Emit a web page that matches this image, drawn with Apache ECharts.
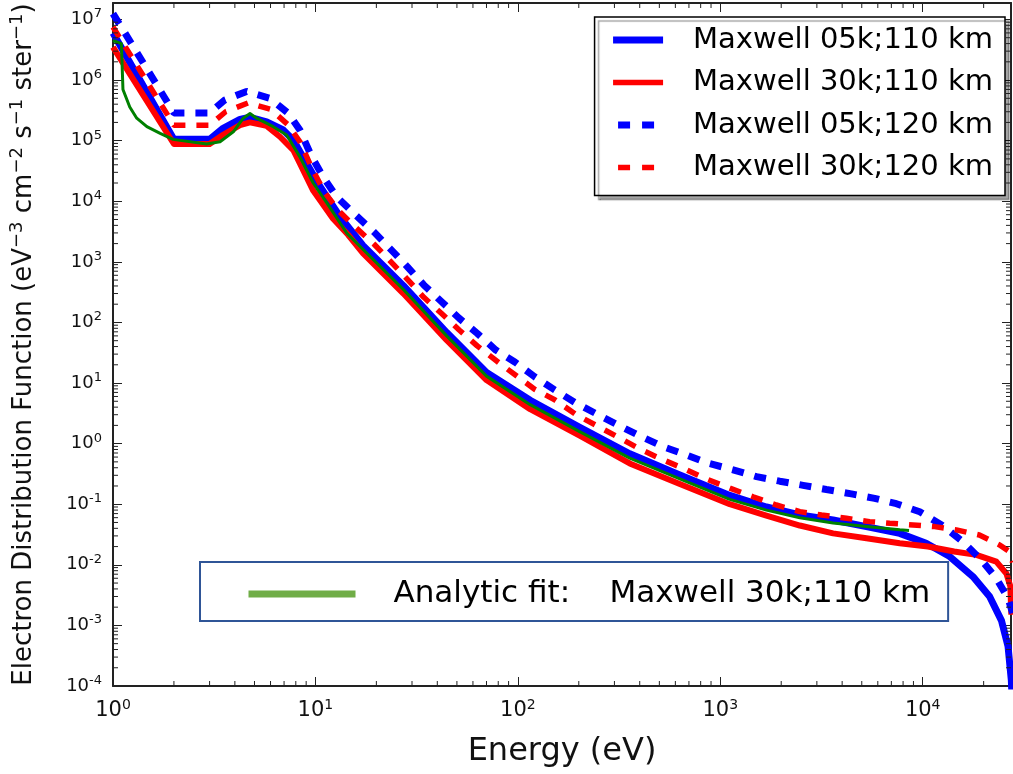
<!DOCTYPE html>
<html>
<head>
<meta charset="utf-8">
<script src="https://cdn.jsdelivr.net/npm/echarts@6/dist/echarts.min.js"></script>
<style>html,body{margin:0;padding:0;background:#fff}#c{width:1013px;height:774px}</style>
</head>
<body>
<div id="c"></div>
<script>
// ---- tick labels (powers of ten) ----
const xTickExps = [0, 1, 2, 3, 4];
const yTickExps = [-4, -3, -2, -1, 0, 1, 2, 3, 4, 5, 6, 7];
const minorMultipliers = [2, 3, 4, 5, 6, 7, 8, 9];
const xMin = 1, xMax = 27300, yMin = 1e-4, yMax = 1.87e7;

// ---- series names ----
const nameB110 = 'Maxwell 05k;110 km';
const nameR110 = 'Maxwell 30k;110 km';
const nameB120 = 'Maxwell 05k;120 km';
const nameR120 = 'Maxwell 30k;120 km';
const nameFit = 'Analytic fit:    Maxwell 30k;110 km';

// ---- Maxwell 05k;110 km (blue solid) ----
const E_b110 = [1, 2, 3, 3.5, 4.24, 4.75, 5.74, 6.93, 7.77, 9.05, 10.55, 13.2, 17.2, 27.2, 44.5, 70, 115, 202, 357, 631, 1114, 1690, 2472, 3607, 5272, 7700, 10400, 13600, 17700, 21400, 24500, 26400, 27400, 27800];
const F_b110 = [6e6, 1.05e5, 1.05e5, 1.6e5, 2.25e5, 2.43e5, 2.05e5, 1.5e5, 1.03e5, 4.2e4, 1.74e4, 5.6e3, 1.85e3, 405, 68, 15, 5.2, 1.85, 0.68, 0.305, 0.14, 0.09, 0.0665, 0.055, 0.0426, 0.033, 0.0227, 0.0137, 0.0064, 0.003, 0.0012, 4.5e-4, 1.25e-4, 4e-5];

// ---- Maxwell 30k;110 km (red solid) ----
const E_r110 = [1, 2, 3, 3.5, 4.24, 4.75, 5.74, 6.68, 7.77, 8.38, 9.75, 12.2, 14.5, 17.2, 27.2, 44.5, 70, 115, 202, 357, 631, 1114, 1690, 2472, 3607, 5272, 7700, 10600, 14300, 18400, 23100, 25900, 27100, 27400];
const F_r110 = [3.5e6, 8.8e4, 8.8e4, 1.25e5, 1.8e5, 2e5, 1.75e5, 1.16e5, 7e4, 4.2e4, 1.5e4, 5.2e3, 2.8e3, 1.38e3, 300, 51, 11.2, 3.7, 1.35, 0.47, 0.215, 0.1, 0.065, 0.0445, 0.033, 0.0275, 0.0227, 0.02, 0.0166, 0.0146, 0.0113, 0.0072, 0.0044, 0.0015];

// ---- Maxwell 05k;120 km (blue dashed) ----
const E_b120 = [1, 2, 3, 3.57, 4.57, 5.96, 7.34, 8.38, 9.58, 10.9, 12.7, 15.8, 19.5, 23.3, 28.4, 34.3, 42, 51.3, 63, 77.8, 97, 121, 152, 195, 250, 319, 408, 522, 681, 871, 1157, 1510, 1968, 2566, 3344, 4443, 5790, 7413, 9665, 12400, 15800, 19500, 23100, 26400, 27800];
const F_b120 = [1.25e7, 2.87e5, 2.87e5, 4.7e5, 6.5e5, 5.0e5, 2.83e5, 1.5e5, 5.45e4, 2.55e4, 1.19e4, 5.9e3, 3.1e3, 1.67e3, 834, 416, 220, 117, 66, 35, 22, 12.7, 7.7, 4.6, 2.98, 1.96, 1.3, 0.89, 0.65, 0.475, 0.37, 0.285, 0.24, 0.205, 0.175, 0.148, 0.125, 0.102, 0.075, 0.0455, 0.024, 0.012, 0.006, 0.0028, 0.0016];

// ---- Maxwell 30k;120 km (red dashed) ----
const E_r120 = [1, 2, 3, 3.6, 4.66, 6, 7.3, 8.4, 9.6, 11.1, 13, 15.8, 19.5, 23.3, 28.4, 34.3, 42, 51.3, 63, 81.5, 121, 152, 195, 250, 319, 408, 522, 681, 838, 1114, 1452, 1892, 2472, 3162, 4198, 5470, 6871, 8954, 11450, 14660, 19050, 23990, 26500, 27800];
const F_r120 = [7.5e6, 1.8e5, 1.8e5, 3e5, 4.2e5, 3.3e5, 1.85e5, 9.5e4, 3.5e4, 1.4e4, 7e3, 3.7e3, 1.95e3, 1.05e3, 520, 260, 140, 75, 41, 21, 7.9, 5.3, 2.98, 1.91, 1.23, 0.79, 0.54, 0.37, 0.268, 0.184, 0.133, 0.097, 0.0755, 0.0665, 0.0587, 0.0516, 0.0485, 0.0455, 0.0427, 0.0377, 0.0311, 0.0213, 0.017, 0.011];

// ---- Analytic fit (green) ----
const E_fit = [1, 1.1, 1.12, 1.21, 1.31, 1.47, 1.71, 1.98, 2.9, 3.38, 3.93, 4.4, 4.75, 5.12, 6.19, 7.21, 8.38, 9.75, 11.4, 14.3, 17.2, 27.2, 44.5, 70, 115, 202, 357, 631, 1114, 1690, 2472, 3607, 5272, 7700, 8560];
const F_fit = [4.5e6, 4e6, 7e5, 3.6e5, 2.35e5, 1.7e5, 1.32e5, 1.05e5, 8.8e4, 9.6e4, 1.4e5, 2.35e5, 2.8e5, 2.35e5, 1.7e5, 1.24e5, 5.4e4, 2e4, 9.3e3, 2.96e3, 1.6e3, 350, 60, 13, 4.4, 1.58, 0.575, 0.262, 0.12, 0.08, 0.06, 0.049, 0.043, 0.038, 0.037];

const FONT = 'DejaVu Sans';
const zip = (a, b) => a.map((v, i) => [v, b[i]]);

function powLabel(exps) {
  return function (v) {
    const l = Math.log10(v);
    const e = Math.round(l);
    if (Math.abs(l - e) > 1e-6 || exps.indexOf(e) < 0) return '';
    return '10{sup|' + (e < 0 ? '-' + (-e) : e) + '}';
  };
}

// minor tick positions (decorative tick marks on all four spines)
const xMinor = [], yMinor = [];
xTickExps.forEach(k => minorMultipliers.forEach(m => { const v = m * Math.pow(10, k); if (v < xMax) xMinor.push([v, yMin]); }));
yTickExps.forEach(k => minorMultipliers.forEach(m => { const v = m * Math.pow(10, k); if (v < yMax) yMinor.push([xMin, v]); }));

const tickStyle = { stroke: '#222', lineWidth: 1 };
const MINOR = 5;

const commonLog = { type: 'log', logBase: 10, interval: 1, splitLine: { show: false } };
const hideSym = { opacity: 0 };

const chart = echarts.init(document.getElementById('c'), null, { renderer: 'canvas' });
chart.setOption({
  animation: false,
  backgroundColor: '#fff',
  grid: { left: 113, right: 2, top: 3, bottom: 88, containLabel: false },
  xAxis: [
    Object.assign({}, commonLog, {
      min: xMin, max: xMax, position: 'bottom',
      axisLine: { show: true, lineStyle: { color: '#222', width: 2 } },
      axisTick: { show: true, inside: true, length: 9, lineStyle: { color: '#222', width: 1 } },
      axisLabel: {
        show: true, margin: 12, showMaxLabel: false, formatter: powLabel(xTickExps),
        fontFamily: FONT, fontSize: 21, color: '#111', lineHeight: 26,
        rich: { sup: { fontFamily: FONT, fontSize: 14, color: '#111', verticalAlign: 'top', lineHeight: 16 } }
      },
      name: 'Energy (eV)', nameLocation: 'middle', nameGap: 50,
      nameTextStyle: { fontFamily: FONT, fontSize: 32, color: '#111' }
    }),
    Object.assign({}, commonLog, {
      min: xMin, max: xMax, position: 'top',
      axisLine: { show: true, lineStyle: { color: '#222', width: 2 } },
      axisTick: { show: true, inside: true, length: 9, lineStyle: { color: '#222', width: 1 } },
      axisLabel: { show: false }
    })
  ],
  yAxis: [
    Object.assign({}, commonLog, {
      min: yMin, max: yMax, position: 'left',
      axisLine: { show: true, lineStyle: { color: '#222', width: 2 } },
      axisTick: { show: true, inside: true, length: 9, lineStyle: { color: '#222', width: 1 } },
      axisLabel: {
        show: true, margin: 11, showMaxLabel: false, formatter: powLabel(yTickExps),
        fontFamily: FONT, fontSize: 18, color: '#111', lineHeight: 24,
        rich: { sup: { fontFamily: FONT, fontSize: 13, color: '#111', verticalAlign: 'top', lineHeight: 15 } }
      },
      name: 'Electron Distribution Function (eV{sup|−3} cm{sup|−2} s{sup|−1} ster{sup|−1})',
      nameLocation: 'middle', nameGap: 72, nameRotate: 90,
      nameTextStyle: {
        fontFamily: FONT, fontSize: 26, color: '#111', lineHeight: 33,
        rich: { sup: { fontFamily: FONT, fontSize: 18, color: '#111', verticalAlign: 'top', lineHeight: 21 } }
      }
    }),
    Object.assign({}, commonLog, {
      min: yMin, max: yMax, position: 'right',
      axisLine: { show: true, lineStyle: { color: '#222', width: 2 } },
      axisTick: { show: true, inside: true, length: 9, lineStyle: { color: '#222', width: 1 } },
      axisLabel: { show: false }
    })
  ],
  legend: [
    {
      orient: 'vertical', right: 8, top: 17,
      padding: [8, 12, 13, 15],
      itemWidth: 50, itemHeight: 14, itemGap: 12.5,
      backgroundColor: '#fff', borderColor: '#000', borderWidth: 1.5, borderRadius: 0,
      shadowColor: 'rgba(0,0,0,0.35)', shadowOffsetX: 4, shadowOffsetY: 4, shadowBlur: 1,
      selectedMode: false,
      formatter: n => '{t|' + n + '}',
      textStyle: {
        fontFamily: FONT, fontSize: 29, color: '#000', lineHeight: 30,
        rich: { t: { fontFamily: FONT, fontSize: 29, color: '#000', lineHeight: 30, padding: [0, 0, 0, 25] } }
      },
      data: [
        { name: nameB110, itemStyle: hideSym, lineStyle: { color: '#0000ff', width: 7, type: 'solid' } },
        { name: nameR110, itemStyle: hideSym, lineStyle: { color: '#ff0000', width: 5.5, type: 'solid' } },
        { name: nameB120, itemStyle: hideSym, lineStyle: { color: '#0000ff', width: 7, type: [12, 12], dashOffset: 19 } },
        { name: nameR120, itemStyle: hideSym, lineStyle: { color: '#ff0000', width: 5.5, type: [12, 12], dashOffset: 19 } }
      ]
    },
    {
      orient: 'horizontal', left: 200, top: 562,
      padding: [14, 18, 9, 45],
      itemWidth: 107, itemHeight: 7,
      backgroundColor: '#fff', borderColor: '#2F5597', borderWidth: 2, borderRadius: 0,
      selectedMode: false,
      formatter: n => '{t|' + n + '}',
      textStyle: {
        fontFamily: FONT, fontSize: 31, color: '#000', lineHeight: 36,
        rich: { t: { fontFamily: FONT, fontSize: 31, color: '#000', lineHeight: 36, padding: [0, 0, 0, 33] } }
      },
      data: [
        { name: nameFit, itemStyle: hideSym, lineStyle: { color: '#70AD47', width: 7, type: 'solid' } }
      ]
    }
  ],
  series: [
    {
      name: nameB110, type: 'line', data: zip(E_b110, F_b110), symbol: 'none', showSymbol: false, clip: true,
      lineStyle: { color: '#0000ff', width: 7, join: 'round' }, itemStyle: { color: '#0000ff' }, z: 2
    },
    {
      name: nameR110, type: 'line', data: zip(E_r110, F_r110), symbol: 'none', showSymbol: false, clip: true,
      lineStyle: { color: '#ff0000', width: 6, join: 'round' }, itemStyle: { color: '#ff0000' }, z: 3
    },
    {
      name: nameB120, type: 'line', data: zip(E_b120, F_b120), symbol: 'none', showSymbol: false, clip: true,
      lineStyle: { color: '#0000ff', width: 7, type: [12, 11] }, itemStyle: { color: '#0000ff' }, z: 4
    },
    {
      name: nameR120, type: 'line', data: zip(E_r120, F_r120), symbol: 'none', showSymbol: false, clip: true,
      lineStyle: { color: '#ff0000', width: 5.5, type: [12, 11] }, itemStyle: { color: '#ff0000' }, z: 5
    },
    {
      name: nameFit, type: 'line', data: zip(E_fit, F_fit), symbol: 'none', showSymbol: false, clip: true,
      lineStyle: { color: '#008000', width: 3, join: 'round' }, itemStyle: { color: '#008000' }, z: 6
    },
    {
      name: 'xMinorTicks', type: 'custom', silent: true, z: 10, data: xMinor,
      renderItem: function (params, api) {
        const v = api.value(0);
        const pb = api.coord([v, yMin]);
        const pt = api.coord([v, yMax]);
        return { type: 'group', children: [
          { type: 'line', shape: { x1: pb[0], y1: pb[1], x2: pb[0], y2: pb[1] - MINOR }, style: tickStyle },
          { type: 'line', shape: { x1: pt[0], y1: pt[1], x2: pt[0], y2: pt[1] + MINOR }, style: tickStyle }
        ] };
      }
    },
    {
      name: 'yMinorTicks', type: 'custom', silent: true, z: 10, data: yMinor,
      renderItem: function (params, api) {
        const v = api.value(1);
        const pl = api.coord([xMin, v]);
        const pr = api.coord([xMax, v]);
        return { type: 'group', children: [
          { type: 'line', shape: { x1: pl[0], y1: pl[1], x2: pl[0] + MINOR, y2: pl[1] }, style: tickStyle },
          { type: 'line', shape: { x1: pr[0], y1: pr[1], x2: pr[0] - MINOR, y2: pr[1] }, style: tickStyle }
        ] };
      }
    }
  ]
});
</script>
</body>
</html>
